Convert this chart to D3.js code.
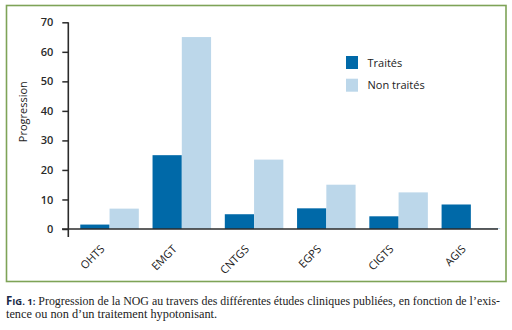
<!DOCTYPE html>
<html>
<head>
<meta charset="utf-8">
<script src="https://cdn.jsdelivr.net/npm/d3@7"></script>
<style>
  html, body { margin: 0; padding: 0; background: #fff; }
  svg { display: block; }
</style>
</head>
<body>
<svg id="chart" width="512" height="330"></svg>
<script>
const categories = ["OHTS", "EMGT", "CNTGS", "EGPS", "CIGTS", "AGIS"];
const seriesNames = ["Traités", "Non traités"];
const traites = [1.5, 25, 5, 7, 4.3, 8.3];
const nonTraites = [6.9, 65, 23.5, 15, 12.4, 0.3];
const yTicks = [0, 10, 20, 30, 40, 50, 60, 70];
const yTitle = "Progression";
const captionLine1 = " Progression de la NOG au travers des différentes études cliniques publiées, en fonction de l’exis-";
const captionLine2 = "tence ou non d’un traitement hypotonisant.";

const colors = ["#0069a8", "#bcd7ea"];
const svg = d3.select("#chart");

// frame
svg.append("rect").attr("x", 6.5).attr("y", 5.5).attr("width", 499.5).attr("height", 276)
  .attr("fill", "none").attr("stroke", "#7ea357").attr("stroke-width", 1.6);

const y = d3.scaleLinear().domain([0, 70]).range([229, 22.3]);
const x0 = d3.scaleBand().domain(categories).range([68, 512.4]).paddingInner(0.19).paddingOuter(0.17);
const x1 = d3.scaleBand().domain(seriesNames).range([0, x0.bandwidth()]).padding(0);

const data = categories.map((c, i) => ({cat: c, vals: [traites[i], nonTraites[i]]}));

const g = svg.append("g");
g.selectAll("g.grp").data(data).enter().append("g")
  .attr("transform", d => `translate(${x0(d.cat)},0)`)
  .selectAll("rect").data(d => d.vals.map((v, j) => ({s: seriesNames[j], v, j})))
  .enter().append("rect")
  .attr("x", d => x1(d.s))
  .attr("width", x1.bandwidth())
  .attr("y", d => y(d.v))
  .attr("height", d => y(0) - y(d.v))
  .attr("fill", d => colors[d.j]);

// y axis
const yAxis = d3.axisLeft(y).tickValues(yTicks).tickSize(6).tickPadding(9).tickFormat(d3.format("d"));
const ya = svg.append("g").attr("transform", "translate(68.3,0)").call(yAxis);
ya.select(".domain").remove();
ya.append("line").attr("x1", 0).attr("x2", 0).attr("y1", y(70)).attr("y2", 237)
  .attr("stroke", "#2b2b2b").attr("stroke-width", 1.6);
ya.selectAll(".tick line").attr("stroke", "#2b2b2b").attr("stroke-width", 1.5);
ya.selectAll(".tick text").attr("fill", "#2a2a2a")
  .style("font-family", "'Open Sans', sans-serif").style("font-size", "11px").style("font-weight", "600");

// x axis line
svg.append("line").attr("x1", 62).attr("x2", 498).attr("y1", y(0)).attr("y2", y(0))
  .attr("stroke", "#2b2b2b").attr("stroke-width", 1.6);

// x labels
svg.append("g").selectAll("text").data(categories).enter().append("text")
  .attr("transform", d => `translate(${x0(d) + x0.bandwidth() / 2 - 7},247) rotate(-45)`)
  .attr("text-anchor", "end")
  .attr("dy", "0.35em")
  .attr("fill", "#222")
  .style("font-family", "'Open Sans', sans-serif").style("font-size", "11px")
  .text(d => d);

// y title
svg.append("text")
  .attr("transform", "translate(26.5,111.7) rotate(-90)")
  .attr("text-anchor", "middle")
  .attr("fill", "#222")
  .style("font-family", "'Open Sans', sans-serif").style("font-size", "11px")
  .text(yTitle);

// legend
const leg = svg.append("g").attr("transform", "translate(346,56)");
seriesNames.forEach((s, i) => {
  leg.append("rect").attr("x", 0).attr("y", i * 22.7).attr("width", 12).attr("height", 13).attr("fill", colors[i]);
  leg.append("text").attr("x", 21.5).attr("y", i * 22.7 + 10.5)
    .attr("fill", "#222")
    .style("font-family", "'Open Sans', sans-serif").style("font-size", "11px")
    .text(s);
});

// caption
const cap = svg.append("text").attr("x", 6).attr("y", 305)
  .attr("textLength", 494).attr("lengthAdjust", "spacingAndGlyphs")
  .style("font-family", "'Liberation Serif', serif").style("font-size", "12px").attr("fill", "#222");
cap.append("tspan").text("F").style("font-family", "'Open Sans', sans-serif").style("font-weight", "700").attr("fill", "#1b2a4a").style("font-size", "11.5px");
cap.append("tspan").text("IG. 1:").style("font-family", "'Open Sans', sans-serif").style("font-weight", "700").attr("fill", "#1b2a4a").style("font-size", "9.5px");
cap.append("tspan").text(captionLine1);
svg.append("text").attr("x", 6).attr("y", 318)
  .style("font-family", "'Liberation Serif', serif").style("font-size", "12.3px").attr("fill", "#222")
  .text(captionLine2);
</script>
</body>
</html>
